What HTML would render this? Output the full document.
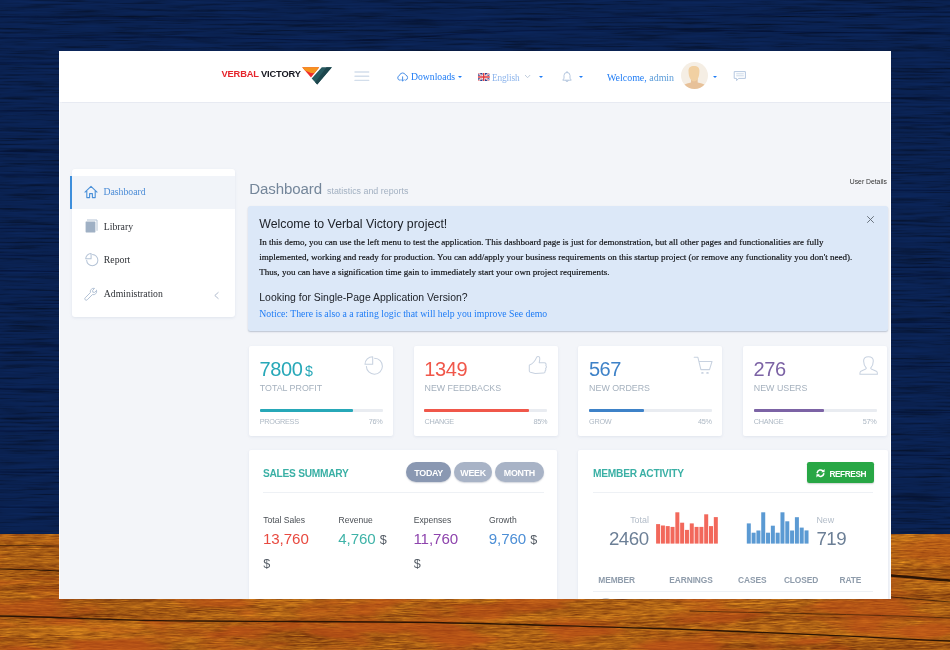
<!DOCTYPE html>
<html lang="en">
<head>
<meta charset="utf-8">
<title>Verbal Victory - Dashboard</title>
<style>
*{box-sizing:border-box;margin:0;padding:0}
html,body{width:950px;height:650px;overflow:hidden;background:#0f2562;font-family:"Liberation Sans",sans-serif}
#bg{position:absolute;left:0;top:0;width:950px;height:650px}
#app{position:absolute;left:0;top:0;width:950px;height:650px;clip-path:inset(51px 59px 51px 59px)}
#white{position:absolute;left:59px;top:51px;width:832px;height:548px;background:#fff}
#content{position:absolute;left:60px;top:102px;width:830px;height:497px;background:#f3f5f9}
#hdr{position:absolute;left:59px;top:51px;width:832px;height:51px;background:#fff;box-shadow:0 .5px 1px rgba(205,212,226,.32)}
.a{position:absolute;white-space:nowrap;line-height:1}
.serif{font-family:"Liberation Serif",serif}
.card{position:absolute;background:#fff;border-radius:2px;box-shadow:0 1px 3px rgba(160,175,200,.22)}
.num{font-size:20px;letter-spacing:-.4px}
.lab{font-size:8.85px;color:#a5b1be}
.st{font-size:7.3px;color:#adb8c4;letter-spacing:-.3px}
.ttl{font-size:10.2px;font-weight:bold;color:#3ab0a5;letter-spacing:-.27px}
.pill{top:462.2px;height:20.3px;border-radius:10.2px;background:#a8b3c6;color:#fff;font-size:8.9px;font-weight:bold;letter-spacing:-.3px;text-align:center;line-height:22px;box-shadow:0 1px 1.5px rgba(120,130,150,.35)}
.sl{font-size:8.55px;color:#4a4f55}
.sn{font-size:15.1px;letter-spacing:-.05px}
.dl{font-size:12.6px;color:#555d66}
.th{font-size:8.4px;font-weight:bold;color:#8f9cab;letter-spacing:-.1px}
svg{overflow:visible}
.caret{width:0;height:0;border-left:2.4px solid transparent;border-right:2.4px solid transparent;border-top:2.8px solid #1f7cf5;margin-top:.7px}
.ico{position:absolute;fill:none;stroke-linecap:round;stroke-linejoin:round}
</style>
</head>
<body>
<svg id="bg" width="950" height="650" viewBox="0 0 950 650">
<defs>
<filter id="fb" x="0" y="0" width="100%" height="100%" color-interpolation-filters="sRGB">
<feTurbulence type="fractalNoise" baseFrequency="0.005 0.26" numOctaves="3" seed="4" result="a"/>
<feTurbulence type="fractalNoise" baseFrequency="0.018 0.5" numOctaves="3" seed="3" result="b"/>
<feComposite in="a" in2="b" operator="arithmetic" k1="0" k2="0.25" k3="0.75" k4="0" result="n"/>
<feComponentTransfer in="n" result="t"><feFuncR type="table" tableValues=".15 .5 .8 .92 1"/></feComponentTransfer>
<feColorMatrix in="t" type="matrix" values="0.045 0 0 0 0.003  0.158 0 0 0 0.003  0.375 0 0 0 0.012  0 0 0 0 1"/>
</filter>
<filter id="fw" x="0" y="0" width="100%" height="100%" color-interpolation-filters="sRGB">
<feTurbulence type="fractalNoise" baseFrequency="0.005 0.14" numOctaves="3" seed="11" result="a"/>
<feTurbulence type="fractalNoise" baseFrequency="0.07 0.85" numOctaves="3" seed="2" result="b"/>
<feComposite in="a" in2="b" operator="arithmetic" k1="0" k2="0.42" k3="0.58" k4="0" result="n"/>
<feColorMatrix in="n" type="matrix" values="0.75 0 0 0 0.29  0.62 0 0 0 0.06  0.14 0 0 0 0.01  0 0 0 0 1"/>
</filter>
<filter id="fr" x="0" y="0" width="100%" height="100%" color-interpolation-filters="sRGB">
<feTurbulence type="fractalNoise" baseFrequency="0.012 0.05" numOctaves="3" seed="9" result="m"/>
<feColorMatrix in="m" type="matrix" values="0 0 0 0 0.74  0 0 0 0 0.30  0 0 0 0 0.09  0 0 0 5 -2.2"/>
</filter>
<linearGradient id="gm" x1="0" y1="534" x2="0" y2="650" gradientUnits="userSpaceOnUse"><stop offset="0" stop-color="#fff" stop-opacity=".3"/><stop offset=".55" stop-color="#fff" stop-opacity=".5"/><stop offset="1" stop-color="#fff" stop-opacity=".65"/></linearGradient>
<mask id="mk" maskUnits="userSpaceOnUse" x="0" y="534" width="950" height="116"><rect y="534" width="950" height="116" fill="url(#gm)"/></mask>
</defs>
<rect width="950" height="534" fill="#0a225a" filter="url(#fb)"/>
<rect y="534" width="950" height="116" fill="#a5691c" filter="url(#fw)"/>
<g mask="url(#mk)"><rect y="534" width="950" height="116" fill="#b8501a" filter="url(#fr)"/></g>
<g fill="none" stroke="#030f33" stroke-linecap="round" opacity=".55">
<path d="M0 63C20 62.500 40 63.500 59 63M0 111C20 111.500 40 110.500 59 111M0 151.500C20 151 40 152 59 152M0 175C20 174.500 40 175 59 175.500M0 228.500C20 228 40 229 59 229M0 255C20 255.500 40 255 59 255.500M0 271C20 270.500 40 271 59 271.500M0 303C20 303.500 40 303 59 303.500M0 346C20 345.500 40 346.500 59 346M0 389C20 389.500 40 389 59 389.500M0 431C20 431.500 40 430.500 59 431M0 472C20 472.500 40 472 59 472.500M0 507C20 507.500 40 507 59 507" stroke-width="1.1"/>
<path d="M891 97.500C910 98 930 97.500 950 98M891 122.500C910 123 930 122.500 950 123M891 190C910 190.500 930 190 950 190.500M891 267C910 267.500 930 267 950 267.500M891 274.500C910 275 930 275.500 950 275M891 322C910 322.500 930 322 950 322.500M891 366C910 366.500 930 366 950 366.500M891 412C910 412.500 930 412 950 412.500M891 455C910 455.500 930 455 950 455.500M891 497C910 497.500 930 497 950 497.500" stroke-width="1.1"/>
<path d="M0 17C150 18 300 22 420 21S700 14 950 12M0 38C100 37 200 36 300 40S420 32 560 30S800 34 950 33" stroke-width="1"/>
</g>
<g fill="none" stroke="#2b1405" stroke-linecap="round">
<path d="M0 616C60 617 120 621 200 621S300 622 380 622S560 626 640 628S800 634 950 641" stroke-width="1.3"/>
<path d="M0 569C20 569 40 570 59 571" stroke-width="1.2"/>
<path d="M891 575.5C910 577 930 579 950 580.5" stroke-width="2.6"/>
<path d="M891 597C910 599 930 600 950 602" stroke-width="1" opacity=".7"/>
<path d="M690 611C760 613 860 614 950 618" stroke-width=".9" opacity=".7"/>
<path d="M0 545.5C20 545 40 546 59 546" stroke-width=".9" opacity=".6"/>
</g>
</svg>
<div id="app">
<div id="white"></div>
<div id="content"></div>
<div id="hdr"></div>

<!-- HEADER -->
<div class="a" id="logo" style="left:221.5px;top:70px;font-size:9.3px;font-weight:bold;letter-spacing:-.16px;color:#15161f"><span style="color:#e5242b">VERBAL</span> VICTORY</div>
<svg class="ico" style="left:300px;top:65px" width="36" height="22" viewBox="300 65 36 22">
<polygon points="302.2,67.3 319.2,67.3 311,77.4" fill="#ef2b2d"/>
<path d="M302.2 67.3 L319.2 67.3 L314.4 73.2 Q309.5 73 305 70.4 Z" fill="#f6931e"/>
<polygon points="321.8,67.2 331.9,67.2 317.2,84.5 311.7,78.5" fill="#27595f"/>
<polygon points="326.5,67.2 331.9,67.2 317.2,84.5 315.2,82.3" fill="#1d464d"/>
</svg>
<svg class="ico" style="left:354.8px;top:70px" width="15" height="12" viewBox="0 0 15 12" stroke="#d3deeb" stroke-width="1.4" stroke-linecap="butt"><path d="M0 2H13.700M0 6.200H13.700M0 10.400H13.700"/></svg>

<!-- downloads -->
<svg class="ico" style="left:397px;top:71.5px" width="12" height="10" viewBox="0 0 12 10" stroke="#4a90e8" stroke-width="1"><path d="M3.1 8.2H2.9A2.4 2.4 0 0 1 2.5 3.5A3.2 3.2 0 0 1 8.6 3A2.7 2.7 0 0 1 8.6 8.2H8.2"/><path d="M5.6 4.8V9M4.3 7.7L5.6 9L6.9 7.7"/></svg>
<div class="a serif" id="dl" style="left:411px;top:71.6px;font-size:9.7px;color:#1f7cf5">Downloads</div>
<div class="a caret" style="left:458.3px;top:75.4px"></div>
<!-- language -->
<svg class="ico" style="left:478.2px;top:72.7px;overflow:hidden" width="11.4" height="8" viewBox="0 0 60 40" preserveAspectRatio="none"><rect width="60" height="40" rx="4" fill="#2b3f8e"/><path d="M0 0L60 40M60 0L0 40" stroke="#fff" stroke-width="8"/><path d="M0 0L60 40M60 0L0 40" stroke="#e0383e" stroke-width="3"/><path d="M30 0V40M0 20H60" stroke="#fff" stroke-width="13"/><path d="M30 0V40M0 20H60" stroke="#e0383e" stroke-width="7"/></svg>
<div class="a serif" id="en" style="left:492px;top:73.5px;font-size:9.3px;letter-spacing:-.12px;color:#8db5ec">English</div>
<svg class="ico" style="left:525.2px;top:75.3px" width="5.2" height="3.2" viewBox="0 0 5.2 3.2" stroke="#b9c6d8" stroke-width=".9"><path d="M.3 .3L2.6 2.7L4.9 .3"/></svg>
<div class="a caret" style="left:538.6px;top:75.2px"></div>
<!-- bell -->
<svg class="ico" style="left:562.4px;top:71px" width="10" height="12" viewBox="0 0 10 12" stroke="#b6c8e0" stroke-width="1"><path d="M5 .6V1.4M5 1.4A3 3 0 0 1 8 4.4V7.2L9.2 9.2H.8L2 7.2V4.4A3 3 0 0 1 5 1.4ZM3.8 9.4A1.2 1.2 0 0 0 6.2 9.4"/></svg>
<div class="a caret" style="left:579.3px;top:75.2px"></div>
<!-- user -->
<div class="a serif" id="wel" style="left:607px;top:72.7px;font-size:9.95px;color:#1f7cf5">Welcome, <span style="color:#5a9bd8">admin</span></div>
<svg class="ico" style="left:680.7px;top:62.3px" width="27" height="27" viewBox="0 0 40 40"><defs><clipPath id="avc"><circle cx="20" cy="20" r="20"/></clipPath></defs><circle cx="20" cy="20" r="20" fill="#f5eee4"/><g clip-path="url(#avc)"><path d="M14.800 24H24.700V30.200C29 31 33 32 36.500 34.500V41H3.500V34.500C7 32 11 31 14.800 30.200Z" fill="#e7c199"/><path d="M19.200 5.800C24.800 5.800 27.500 8.500 27.300 13.500C27.100 19 26.500 22.500 24.500 25.500C22.500 28 20.500 28.600 19.200 28.600C18 28.600 16 28 14 25.500C12 22.500 11.300 19 11.100 13.500C10.900 8.500 13.800 5.800 19.200 5.800Z" fill="#f1d0a2"/></g></svg>
<div class="a caret" style="left:712.9px;top:75.4px"></div>
<svg class="ico" style="left:734.2px;top:70.6px" width="12" height="11" viewBox="0 0 12 11" stroke="#b6c8e0" stroke-width="1"><path d="M.6 .6H11.4V7.4H4.6L2.6 9.6V7.4H.6Z"/><path d="M2.6 2.8H9.4M2.6 4.8H9.4" stroke-width=".7"/></svg>

<!-- SIDEBAR -->
<div class="card" style="left:72px;top:168.6px;width:163px;height:148.6px;border-radius:3px"></div>
<div style="position:absolute;left:70px;top:175.6px;width:165px;height:33.2px;background:#f1f4f9;border-left:2px solid #3d8edb"></div>
<svg class="ico" style="left:84px;top:184.5px" width="14" height="14" viewBox="0 0 14 14" stroke="#4a90d9" stroke-width="1.1"><path d="M1 7.2L7 1.4L13 7.2M2.8 6V12.6H5.6V8.6H8.4V12.6H11.2V6"/></svg>
<div class="a serif" id="m1" style="left:103.4px;top:187.2px;font-size:9.75px;color:#4a8bd6">Dashboard</div>
<svg class="ico" style="left:85px;top:218.6px" width="13" height="14" viewBox="0 0 13 14"><path d="M2.4 1H12V11.4" stroke="#b4c3d4" stroke-width="1" fill="none"/><rect x=".6" y="2.4" width="9.8" height="11" rx=".6" fill="#9fb0c4"/></svg>
<div class="a serif" id="m2" style="left:103.8px;top:221.8px;font-size:9.75px;color:#2f3237">Library</div>
<svg class="ico" style="left:84.6px;top:252.6px" width="14" height="14" viewBox="0 0 20 20" stroke="#b4c3d6" stroke-width="1.45"><path d="M8.7 8.3H1A7.7 7.7 0 0 1 8.7 .7Z"/><path d="M10.6 2.2A8 8 0 1 1 2.4 10.4"/></svg>
<div class="a serif" id="m3" style="left:103.8px;top:254.9px;font-size:9.75px;color:#2f3237">Report</div>
<svg class="ico" style="left:84.2px;top:286.5px" width="14" height="14" viewBox="0 0 14 14" stroke="#b4c3d6" stroke-width="1"><path d="M12.6 3.4L10.6 5.4L8.8 5.2L8.6 3.4L10.6 1.4A3.4 3.4 0 0 0 6.4 5.6L1.2 10.8A1.4 1.4 0 0 0 3.2 12.8L8.4 7.6A3.4 3.4 0 0 0 12.6 3.4Z"/></svg>
<div class="a serif" id="m4" style="left:103.8px;top:288.8px;font-size:9.75px;color:#2f3237">Administration</div>
<svg class="ico" style="left:214.3px;top:292.2px" width="5" height="7" viewBox="0 0 5 7" stroke="#a9b6c8" stroke-width=".9"><path d="M4.2 .5L.8 3.5L4.2 6.5"/></svg>

<!-- MAIN -->
<div class="a" id="h1" style="left:249.2px;top:180.9px;font-size:15.05px;letter-spacing:-.08px;color:#74869a">Dashboard</div>
<div class="a" id="h1s" style="left:327px;top:186.6px;font-size:8.9px;color:#a3b1c2">statistics and reports</div>
<div class="a" id="ud" style="left:849.8px;top:179.2px;font-size:6.8px;color:#333">User Details</div>
<div id="alert" style="position:absolute;left:248.4px;top:205.8px;width:639.6px;height:125px;background:#dce8f8;border-radius:2.5px;box-shadow:0 1px 1.5px rgba(120,135,160,.45)"></div>
<div class="a" id="ah" style="left:259.3px;top:218.1px;font-size:12.33px;color:#20242b">Welcome to Verbal Victory project!</div>
<div class="a serif" id="ap" style="left:259.3px;top:234.7px;font-size:9.04px;line-height:15.05px;color:#0c0d10;-webkit-text-stroke:.15px #0c0d10">In this demo, you can use the left menu to test the application. This dashboard page is just for demonstration, but all other pages and functionalities are fully<br>implemented, working and ready for production. You can add/apply your business requirements on this startup project (or remove any functionality you don't need).<br>Thus, you can have a signification time gain to immediately start your own project requirements.</div>
<div class="a" id="ah2" style="left:259.3px;top:292.5px;font-size:10.45px;color:#20242b">Looking for Single-Page Application Version?</div>
<div class="a serif" id="an" style="left:259.3px;top:309px;font-size:9.75px;color:#1f7cf5">Notice: There is also a a rating logic that will help you improve See demo</div>
<svg class="ico" style="left:866.8px;top:216px" width="7" height="7" viewBox="0 0 7 7" stroke="#5e6670" stroke-width=".9"><path d="M.5 .5L6.5 6.5M6.5 .5L.5 6.5"/></svg>

<!-- STAT CARDS -->
<div class="card" style="left:249.0px;top:345.8px;width:144.2px;height:90.2px"></div>
<div class="a num" style="left:259.6px;top:358.9px;color:#27a8b8">7800<span style="font-size:14.2px;letter-spacing:-.2px;margin-left:2.6px">$</span></div>
<div class="a lab" style="left:259.8px;top:383.6px">TOTAL PROFIT</div>
<div style="position:absolute;left:259.5px;top:409px;width:123px;height:3px;background:#e9ecf1;border-radius:1px"><div style="width:76%;height:3px;background:#27a8b8;border-radius:1px"></div></div>
<div class="a st" style="left:259.8px;top:418px">PROGRESS</div>
<div class="a st" style="left:259.5px;width:123px;text-align:right;top:418px">76%</div>
<svg class="ico" style="left:364px;top:356px" width="20" height="20" viewBox="0 0 20 20" stroke="#c8d2e0" stroke-width="1.05"><path d="M8.7 8.3H1A7.7 7.7 0 0 1 8.7 .7Z"/><path d="M10.6 2.2A8 8 0 1 1 2.4 10.4"/></svg>
<div class="card" style="left:413.7px;top:345.8px;width:144.2px;height:90.2px"></div>
<div class="a num" style="left:424.3px;top:358.9px;color:#f0574a">1349</div>
<div class="a lab" style="left:424.5px;top:383.6px">NEW FEEDBACKS</div>
<div style="position:absolute;left:424.2px;top:409px;width:123px;height:3px;background:#e9ecf1;border-radius:1px"><div style="width:85%;height:3px;background:#f0574a;border-radius:1px"></div></div>
<div class="a st" style="left:424.5px;top:418px">CHANGE</div>
<div class="a st" style="left:424.2px;width:123px;text-align:right;top:418px">85%</div>
<svg class="ico" style="left:529.4px;top:356.3px" width="19" height="19" viewBox="0 0 19 19" stroke="#c8d2e0" stroke-width="1.05"><path d="M.5 9C3 8 6 5.5 7.6 1.4C8.2 0 10.4 .2 10.7 1.8C11 3.6 10.4 5.4 10.2 6.7H15.4C17 6.7 17.4 8.6 16.8 9.4C17.8 10.4 17.4 12 16.6 12.4C17.2 13.6 16.6 14.8 16 15C16.4 16.2 15.6 17 14.6 17L6.4 17.4C4.4 17.4 3 16.4 1.4 16.2C.6 16 .3 15.6 .3 15V9.4C.3 9.1 .4 9 .5 9Z"/></svg>
<div class="card" style="left:578.3px;top:345.8px;width:144.2px;height:90.2px"></div>
<div class="a num" style="left:588.9px;top:358.9px;color:#3e82c8">567</div>
<div class="a lab" style="left:589.1px;top:383.6px">NEW ORDERS</div>
<div style="position:absolute;left:588.8px;top:409px;width:123px;height:3px;background:#e9ecf1;border-radius:1px"><div style="width:45%;height:3px;background:#3e82c8;border-radius:1px"></div></div>
<div class="a st" style="left:589.1px;top:418px">GROW</div>
<div class="a st" style="left:588.8px;width:123px;text-align:right;top:418px">45%</div>
<svg class="ico" style="left:0;top:0" width="950" height="650" viewBox="0 0 950 650" stroke="#c8d2e0" stroke-width="1.05"><path d="M694.2 357.3H697.9L700.9 369.6H709.5L712 361.5H699.4"/><ellipse cx="702.4" cy="372.9" rx="1.3" ry=".9" fill="#c8d2e0" stroke="none"/><ellipse cx="707.5" cy="372.9" rx="1.3" ry=".9" fill="#c8d2e0" stroke="none"/></svg>
<div class="card" style="left:743.0px;top:345.8px;width:144.2px;height:90.2px"></div>
<div class="a num" style="left:753.6px;top:358.9px;color:#7c63a5">276</div>
<div class="a lab" style="left:753.8px;top:383.6px">NEW USERS</div>
<div style="position:absolute;left:753.5px;top:409px;width:123px;height:3px;background:#e9ecf1;border-radius:1px"><div style="width:57%;height:3px;background:#7c63a5;border-radius:1px"></div></div>
<div class="a st" style="left:753.8px;top:418px">CHANGE</div>
<div class="a st" style="left:753.5px;width:123px;text-align:right;top:418px">57%</div>
<svg class="ico" style="left:858.5px;top:356px" width="20" height="20" viewBox="0 0 20 20" stroke="#c8d2e0" stroke-width="1.05"><path d="M9.4 .7C6 .7 4.6 2.6 4.6 5C4.6 8 5.4 10 7.3 12.2C7.3 13.4 3 14.4 1.6 15.4C.9 16 .9 17 .9 18.2H18.4C18.4 17 18.4 16 17.7 15.4C16.3 14.4 11.7 13.4 11.7 12.2C13.6 10 14.3 8 14.3 5C14.3 2.6 12.8 .7 9.4 .7Z"/></svg>

<!-- SALES SUMMARY -->
<div class="card" style="left:249.2px;top:450px;width:308.3px;height:160px"></div>
<div class="a ttl" style="left:263px;top:469.3px">SALES SUMMARY</div>
<div class="a pill" style="left:406.4px;width:44.5px;background:#8a98b2">TODAY</div>
<div class="a pill" style="left:453.9px;width:38.4px">WEEK</div>
<div class="a pill" style="left:494.8px;width:49.2px">MONTH</div>
<div style="position:absolute;left:263px;top:492px;width:280.6px;height:1px;background:#eef1f5"></div>
<div class="a sl" style="left:263.3px;top:516.2px">Total Sales</div>
<div class="a sn" style="left:262.9px;top:530.8px;color:#e84a40">13,760</div>
<div class="a dl" style="left:263.3px;top:558.4px">$</div>
<div class="a sl" style="left:338.6px;top:516.2px">Revenue</div>
<div class="a sn" style="left:338.2px;top:530.8px;color:#3fb3a8">4,760 <span class="dl">$</span></div>
<div class="a sl" style="left:413.8px;top:516.2px">Expenses</div>
<div class="a sn" style="left:413.4px;top:530.8px;color:#8e44ad">11,760</div>
<div class="a dl" style="left:413.8px;top:558.4px">$</div>
<div class="a sl" style="left:489.1px;top:516.2px">Growth</div>
<div class="a sn" style="left:488.7px;top:530.8px;color:#4d8fd6">9,760 <span class="dl">$</span></div>

<!-- MEMBER ACTIVITY -->
<div class="card" style="left:578.4px;top:450px;width:309.2px;height:160px"></div>
<div class="a ttl" style="left:593px;top:469.3px;letter-spacing:-.22px">MEMBER ACTIVITY</div>
<div style="position:absolute;left:807.1px;top:462.2px;width:66.6px;height:20.4px;background:#28a745;border-radius:2.2px;box-shadow:0 1px 1.5px rgba(60,80,70,.25)"></div>
<svg class="ico" style="left:816.4px;top:469px" width="9" height="8.4" viewBox="0 0 18 17" stroke="#fff" stroke-width="3.2" stroke-linecap="butt"><path d="M2.400 7.400A6.600 6.600 0 0 1 13.800 4.200"/><path d="M15.600 9.600A6.600 6.600 0 0 1 4.200 12.800"/><path d="M10.400 6.400H17.200V-.2Z" fill="#fff" stroke="none"/><path d="M7.600 10.600H.8V17.200Z" fill="#fff" stroke="none"/></svg>
<div class="a" style="left:829.4px;top:469.5px;font-size:8.3px;font-weight:bold;color:#fff;letter-spacing:-.42px">REFRESH</div>
<div style="position:absolute;left:593px;top:492px;width:280.3px;height:1px;background:#eef1f5"></div>
<div class="a" style="left:600px;width:48.9px;text-align:right;top:516.2px;font-size:8.9px;color:#b2bcc8">Total</div>
<div class="a" style="left:590px;width:58.8px;text-align:right;top:530px;font-size:18.7px;letter-spacing:-.42px;color:#6c7f96">2460</div>
<div class="a" style="left:816.4px;top:516.2px;font-size:8.9px;color:#b2bcc8">New</div>
<div class="a" style="left:816.4px;top:530px;font-size:18.7px;letter-spacing:-.42px;color:#6c7f96">719</div>
<svg class="ico" style="left:0;top:0" width="950" height="650" viewBox="0 0 950 650" shape-rendering="auto"><rect x="656.10" y="524.1" width="4" height="19.5" fill="#f2685b"/><rect x="660.91" y="525.5" width="4" height="18.1" fill="#f2685b"/><rect x="665.72" y="526.1" width="4" height="17.5" fill="#f2685b"/><rect x="670.53" y="526.9" width="4" height="16.7" fill="#f2685b"/><rect x="675.34" y="512.3" width="4" height="31.3" fill="#f2685b"/><rect x="680.15" y="522.7" width="4" height="20.9" fill="#f2685b"/><rect x="684.96" y="529.9" width="4" height="13.7" fill="#f2685b"/><rect x="689.77" y="523.4" width="4" height="20.2" fill="#f2685b"/><rect x="694.58" y="526.9" width="4" height="16.7" fill="#f2685b"/><rect x="699.39" y="526.9" width="4" height="16.7" fill="#f2685b"/><rect x="704.20" y="514.3" width="4" height="29.3" fill="#f2685b"/><rect x="709.01" y="526.1" width="4" height="17.5" fill="#f2685b"/><rect x="713.82" y="517.1" width="4" height="26.5" fill="#f2685b"/><rect x="746.80" y="523.4" width="4" height="20.2" fill="#5b9ad3"/><rect x="751.61" y="532.7" width="4" height="10.9" fill="#5b9ad3"/><rect x="756.42" y="530.5" width="4" height="13.1" fill="#5b9ad3"/><rect x="761.23" y="512.3" width="4" height="31.3" fill="#5b9ad3"/><rect x="766.04" y="532.7" width="4" height="10.9" fill="#5b9ad3"/><rect x="770.85" y="525.7" width="4" height="17.9" fill="#5b9ad3"/><rect x="775.66" y="532.7" width="4" height="10.9" fill="#5b9ad3"/><rect x="780.47" y="512.3" width="4" height="31.3" fill="#5b9ad3"/><rect x="785.28" y="521.3" width="4" height="22.3" fill="#5b9ad3"/><rect x="790.09" y="530.5" width="4" height="13.1" fill="#5b9ad3"/><rect x="794.90" y="517.2" width="4" height="26.4" fill="#5b9ad3"/><rect x="799.71" y="527.6" width="4" height="16.0" fill="#5b9ad3"/><rect x="804.52" y="530.4" width="4" height="13.2" fill="#5b9ad3"/></svg>
<div class="a th" style="left:598.3px;top:575.8px">MEMBER</div>
<div class="a th" style="left:669.3px;top:575.8px">EARNINGS</div>
<div class="a th" style="left:738.1px;top:575.8px">CASES</div>
<div class="a th" style="left:783.9px;top:575.8px">CLOSED</div>
<div class="a th" style="left:839.5px;top:575.8px">RATE</div>
<div style="position:absolute;left:593px;top:591.4px;width:280.3px;height:1px;background:#eef1f5"></div>
<div style="position:absolute;left:598px;top:597.6px;width:16px;height:16px;border-radius:8px;background:#c9ccd2"></div>

</div>
</body>
</html>
